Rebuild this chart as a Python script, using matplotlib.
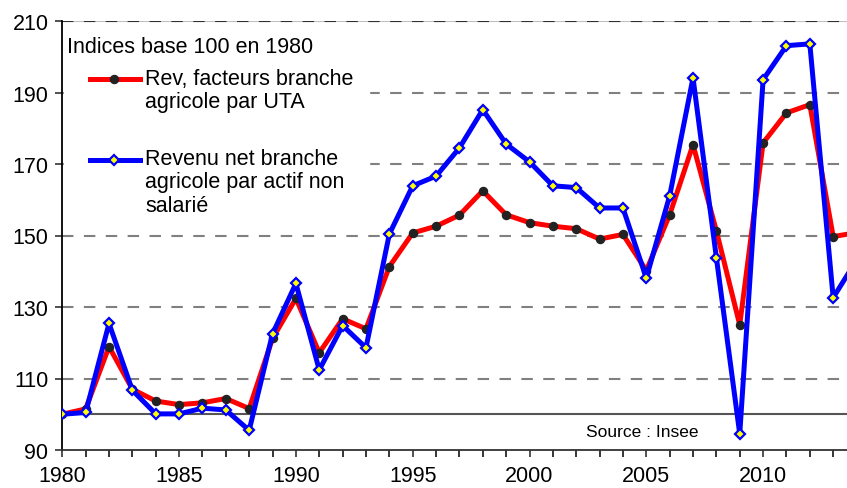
import numpy as np
import matplotlib.pyplot as plt

plt.rcParams['font.family'] = ['Liberation Sans', 'DejaVu Sans']

# données (indices base 100 en 1980)
years = list(range(1980, 2015))
rev_uta = [100, 101.5, 118.9, 107.0, 103.7, 102.7, 103.2, 104.4, 101.6, 121.2,
           132.4, 117.2, 126.7, 123.9, 141.3, 150.7, 152.6, 155.7, 162.5, 155.8,
           153.6, 152.6, 151.9, 149.0, 150.3, 140.2, 155.8, 175.4, 151.3, 125.0,
           175.9, 184.3, 186.6, 149.7, 150.8]
rev_net = [100, 100.5, 125.4, 106.7, 100.1, 100.1, 101.7, 101.2, 95.5, 122.5,
           136.6, 112.4, 124.8, 118.6, 150.4, 163.9, 166.6, 174.5, 185.2, 175.6,
           170.6, 163.9, 163.4, 157.7, 157.7, 138.1, 161.1, 194.1, 143.8, 94.5,
           193.6, 203.1, 203.6, 132.6, 143.1]
label_uta = ['Rev, facteurs branche', 'agricole par UTA']
label_net = ['Revenu net branche', 'agricole par actif non', 'salarié']
legend_title = 'Indices base 100 en 1980'
source = 'Source : Insee'

W, H = 847, 489
def fx(x):
    return x / W
def fy(y):
    return 1 - y / H

fig = plt.figure(figsize=(W / 100, H / 100), dpi=100)
ax = fig.add_axes([fx(62.3), fy(451), fx(847) - fx(62.3), fy(22) - fy(451)])

for v in range(110, 211, 20):
    ax.axhline(v, color='#808080', lw=1.5, ls=(0, (5.5, 5)), zorder=1)
ax.axhline(210, color='#c0c0c0', lw=1.5, zorder=1)
ax.axhline(210, color='#303030', lw=1.5, ls=(0, (5.5, 5)), zorder=1)
ax.axhline(100, color='#555555', lw=1.5, zorder=1)

ax.plot(years, rev_uta, color='red', lw=3.6, marker='o', ms=5.8,
        mfc='#222222', mec='#222222', zorder=3)
ax.plot(years, rev_net, color='blue', lw=3.6, marker='D', ms=5,
        mfc='yellow', mec='blue', mew=1.6, zorder=4)

ax.set_yticks(range(90, 211, 20))
ax.set_xticks(range(1980, 2014, 5))
ax.set_xticks(range(1980, 2014), minor=True)
ax.set_xlim(1980, 1980 + (847 - 62.3) / 23.36)
ax.set_ylim(90, 210)
ax.tick_params(axis='both', labelsize=15.5, length=5, width=1.1, color='#222222')
ax.tick_params(axis='x', which='minor', length=5, width=1.1)
ax.tick_params(axis='x', pad=6)
ax.tick_params(axis='y', pad=5)

ax.spines['top'].set_visible(False)
ax.spines['right'].set_visible(False)
ax.spines['left'].set_linewidth(1.3)
ax.spines['bottom'].set_linewidth(1.3)
ax.spines['bottom'].set_color('#333333')

# légende
box = plt.Rectangle((fx(63.5), fy(225)), fx(369) - fx(63.5), fy(23.5) - fy(225),
                    transform=fig.transFigure, color='white', zorder=5)
ax.add_patch(box)
box.set_clip_on(False)

fig.text(fx(67), fy(53), legend_title, fontsize=15.5, va='baseline', zorder=6)
for i, line in enumerate(label_uta):
    fig.text(fx(145), fy(85 + 23.3 * i), line, fontsize=15.5, va='baseline', zorder=6)
for i, line in enumerate(label_net):
    fig.text(fx(145), fy(165 + 23.3 * i), line, fontsize=15.5, va='baseline', zorder=6)

fig.add_artist(plt.Line2D([fx(90), fx(140)], [fy(80), fy(80)], color='red', lw=3.6,
                          transform=fig.transFigure, zorder=6))
fig.add_artist(plt.Line2D([fx(114)], [fy(80)], marker='o', ms=5.8, mfc='#222222',
                          mec='#222222', transform=fig.transFigure, zorder=7))
fig.add_artist(plt.Line2D([fx(90), fx(140)], [fy(161), fy(161)], color='blue', lw=3.6,
                          transform=fig.transFigure, zorder=6))
fig.add_artist(plt.Line2D([fx(114)], [fy(161)], marker='D', ms=5, mfc='yellow',
                          mec='blue', mew=1.6, transform=fig.transFigure, zorder=7))

fig.text(fx(642), fy(432.7), source, fontsize=12.5, ha='center', va='center')

fig.savefig('out.png', dpi=100)
